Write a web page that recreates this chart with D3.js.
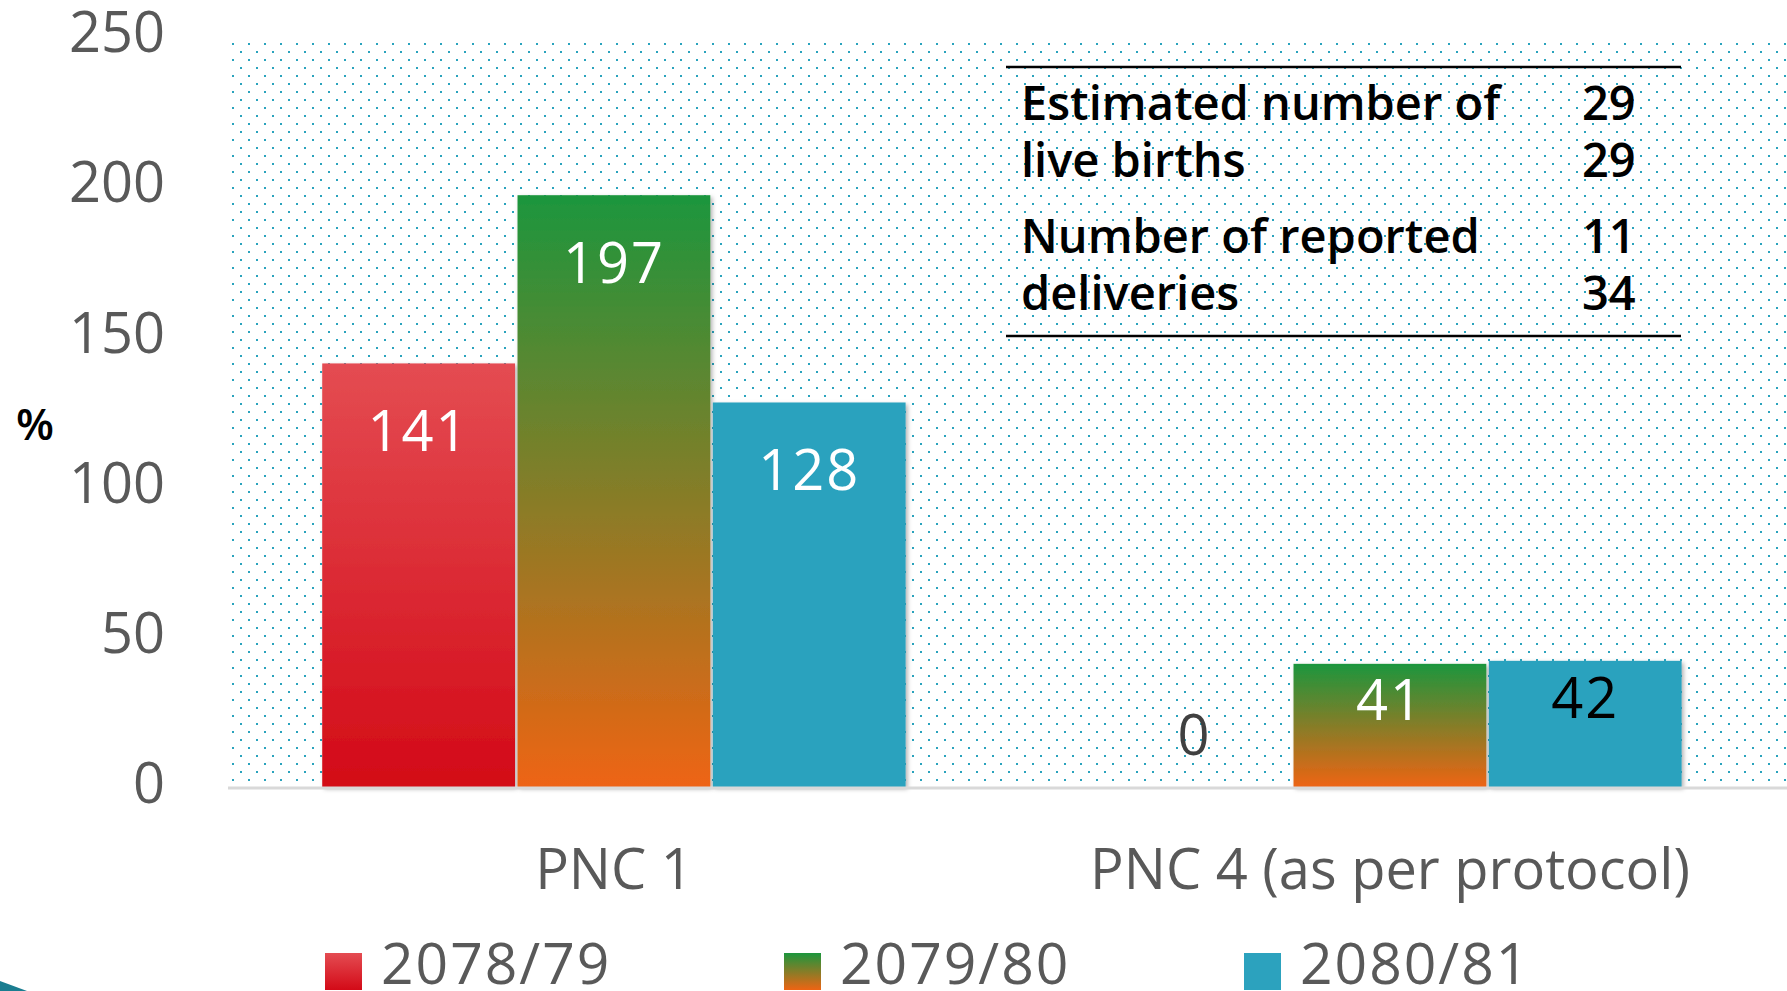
<!DOCTYPE html>
<html>
<head>
<meta charset="utf-8">
<script src="https://cdn.jsdelivr.net/npm/d3@7"></script>
<style>
  html, body { margin: 0; padding: 0; background: #ffffff; }
  svg { display: block; }
  text { font-family: "Open Sans", "Noto Sans", sans-serif; }
</style>
</head>
<body>
<svg id="chart" width="1787" height="991"></svg>
<script>
// ---- data ----
const categories = ["PNC 1", "PNC 4 (as per protocol)"];
const seriesNames = ["2078/79", "2079/80", "2080/81"];
const values2078 = [141, 0];
const values2079 = [197, 41];
const values2080 = [128, 42];
const yTicks = [0, 50, 100, 150, 200, 250];
const tableLabels = ["Estimated number of", "live births", "Number of reported", "deliveries"];
const tableValues = ["29", "29", "11", "34"];

// ---- styles ----
const W = 1787, H = 991;
const plot = { left: 226, right: 1778, top: 36, bottom: 787 };
const labelColors = [["#ffffff", "#404040"], ["#ffffff", "#ffffff"], ["#ffffff", "#000000"]];

const svg = d3.select("#chart");
const defs = svg.append("defs");

// dot pattern background
const pat = defs.append("pattern").attr("id", "dots").attr("patternUnits", "userSpaceOnUse")
  .attr("x", 232).attr("y", 43).attr("width", 16).attr("height", 16);
pat.append("rect").attr("x", 0).attr("y", 0).attr("width", 2).attr("height", 2).attr("fill", "#2aa3bd");
pat.append("rect").attr("x", 8).attr("y", 8).attr("width", 2).attr("height", 2).attr("fill", "#2aa3bd");

// gradients
function grad(id, top, bottom) {
  const g = defs.append("linearGradient").attr("id", id).attr("x1", 0).attr("y1", 0).attr("x2", 0).attr("y2", 1);
  g.append("stop").attr("offset", "0%").attr("stop-color", top);
  g.append("stop").attr("offset", "100%").attr("stop-color", bottom);
}
grad("gRed", "#e44c52", "#d30a17");
grad("gGreen", "#1c963d", "#ee6413");
grad("gRedL", "#e44c52", "#d30a17");
grad("gGreenL", "#1c963d", "#ee6413");
const fills = ["url(#gRed)", "url(#gGreen)", "#2ca2be"];
const legendFills = ["url(#gRedL)", "url(#gGreenL)", "#2ca2be"];

const shadow = defs.append("filter").attr("id", "shadow").attr("x", "-10%").attr("y", "-10%").attr("width", "130%").attr("height", "130%");
shadow.append("feDropShadow").attr("dx", 2).attr("dy", 2).attr("stdDeviation", 2).attr("flood-color", "#000").attr("flood-opacity", 0.3);

// background
svg.append("rect").attr("x", 228).attr("y", 40).attr("width", W - 228).attr("height", plot.bottom - 40).attr("fill", "url(#dots)");

// scales
const x0 = d3.scaleBand().domain(categories).range([plot.left, plot.right]).padding(0);
const bw = x0.bandwidth();
const x1 = d3.scaleBand().domain(seriesNames).range([bw * 0.124, bw * 0.879]).padding(0);
const y = d3.scaleLinear().domain([0, 250]).range([plot.bottom, plot.top]);

// y axis labels
const yAxis = d3.axisLeft(y).tickValues(yTicks).tickSize(0).tickPadding(0);
const yg = svg.append("g").attr("transform", "translate(165,-4)").call(yAxis);
yg.select(".domain").remove();
yg.selectAll("text").attr("font-size", 56).attr("fill", "#595959").attr("font-family", "'Open Sans', sans-serif").attr("dy", "0.35em");

svg.append("text").attr("x", 16).attr("y", 425).attr("dy", "0.35em").attr("font-size", 44).attr("font-weight", 600)
  .attr("fill", "#000").text("%");

// table
const tbl = svg.append("g");
tbl.append("line").attr("x1", 1006).attr("x2", 1681).attr("y1", 67).attr("y2", 67).attr("stroke", "#000").attr("stroke-width", 2.5);
tbl.append("line").attr("x1", 1006).attr("x2", 1681).attr("y1", 336).attr("y2", 336).attr("stroke", "#000").attr("stroke-width", 2.5);
const rowY = [120, 177, 253, 310];
tableLabels.forEach((t, i) => {
  tbl.append("text").attr("x", 1021).attr("y", rowY[i]).attr("font-size", 47).attr("font-weight", 600).attr("fill", "#000").text(t);
  tbl.append("text").attr("x", 1582).attr("y", rowY[i]).attr("font-size", 47).attr("font-weight", 600).attr("fill", "#000").text(tableValues[i]);
});

// bars
const seriesData = [values2078, values2079, values2080];
const gBars = svg.append("g");
seriesData.forEach((vals, s) => {
  categories.forEach((c, ci) => {
    const v = vals[ci];
    const bx = x0(c) + x1(seriesNames[s]);
    const w = x1.bandwidth() - 2.5;
    if (v > 0) {
      gBars.append("rect").attr("x", bx).attr("y", y(v)).attr("width", w).attr("height", y(0) - y(v))
        .attr("fill", fills[s]).attr("filter", "url(#shadow)");
    }
  });
});

// baseline
svg.append("line").attr("x1", 228).attr("x2", W).attr("y1", plot.bottom + 1).attr("y2", plot.bottom + 1)
  .attr("stroke", "#d9d9d9").attr("stroke-width", 3);

// value labels
seriesData.forEach((vals, s) => {
  categories.forEach((c, ci) => {
    const v = vals[ci];
    const cx = x0(c) + x1(seriesNames[s]) + (x1.bandwidth() - 2.5) / 2;
    const h = y(0) - y(v);
    const cy = v > 0 ? y(v) + Math.min(68, h * 0.3) : y(0) - 52;
    svg.append("text").attr("x", cx).attr("y", cy).attr("dy", "0.35em").attr("text-anchor", "middle")
      .attr("font-size", 56).attr("font-weight", 500).attr("fill", labelColors[s][ci])
      .attr("letter-spacing", 2).text(v);
  });
});

// category labels
categories.forEach(c => {
  svg.append("text").attr("x", x0(c) + bw / 2).attr("y", 889).attr("text-anchor", "middle")
    .attr("font-size", 56).attr("fill", "#595959").text(c);
});

// legend
const legendX = [325, 784, 1244];
seriesNames.forEach((n, i) => {
  svg.append("rect").attr("x", legendX[i]).attr("y", 953).attr("width", 37).attr("height", 37).attr("fill", legendFills[i]);
  svg.append("text").attr("x", legendX[i] + 56).attr("y", 984).attr("font-size", 57).attr("letter-spacing", 2)
    .attr("fill", "#595959").text(n);
});

// corner decoration
svg.append("polygon").attr("points", "0,981 27,991 0,991").attr("fill", "#1a7d90");
</script>
</body>
</html>
